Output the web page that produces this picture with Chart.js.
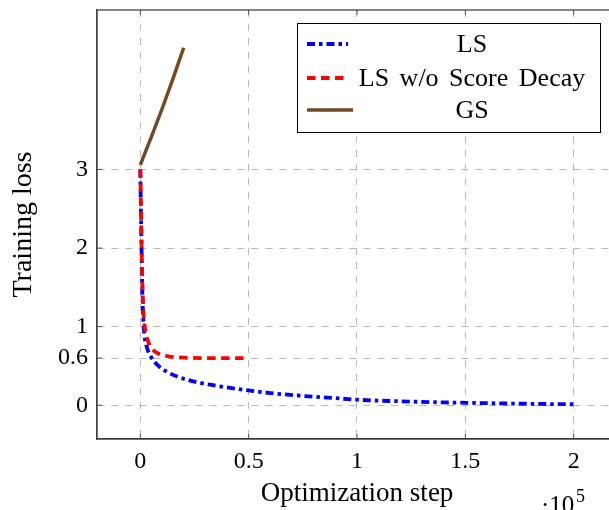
<!DOCTYPE html>
<html>
<head>
<meta charset="utf-8">
<script src="https://cdn.jsdelivr.net/npm/chart.js@4.4.1/dist/chart.umd.min.js"></script>
<style>
	html, body { margin: 0; padding: 0; overflow: hidden; background: #fff; }
	canvas { display: block; }
</style>
</head>
<body>
<canvas id="lossChart" width="620" height="510"></canvas>
<script>
// optimization step in units of 1e5
const stepsLS = [0, 0.002, 0.005, 0.008, 0.012, 0.018, 0.03, 0.05, 0.08, 0.12, 0.17, 0.25, 0.35, 0.45, 0.6, 0.75, 0.9, 1.0, 1.2, 1.4, 1.6, 1.8, 2.0];
const lossLS = [3.0, 2.6, 2.1, 1.6, 1.2, 0.92, 0.74, 0.61, 0.51, 0.43, 0.365, 0.3, 0.248, 0.207, 0.155, 0.118, 0.09, 0.07, 0.05, 0.036, 0.026, 0.018, 0.012];

const stepsNoDecay = [0, 0.003, 0.006, 0.01, 0.015, 0.022, 0.035, 0.05, 0.075, 0.1, 0.15, 0.2, 0.3, 0.4, 0.5];
const lossNoDecay = [3.0, 2.5, 2.0, 1.5, 1.15, 0.97, 0.82, 0.73, 0.67, 0.64, 0.615, 0.605, 0.6, 0.6, 0.6];

const stepsGS = [0, 0.05, 0.1, 0.15, 0.2];
const lossGS = [3.06, 3.41, 3.77, 4.15, 4.55];

const xTicks = [0, 0.5, 1, 1.5, 2];
const yTicks = [0, 0.6, 1, 2, 3];

const seriesLabels = ["LS", "LS w/o Score Decay", "GS"];

const toPoints = (xs, ys) => xs.map((x, i) => ({ x: x, y: ys[i] }));

const serif = "'Liberation Serif', 'Times New Roman', serif";

// box, inner tick marks, legend and the ·10^5 multiplier
const decorations = {
	id: "decorations",
	afterDraw(chart) {
		const { ctx, chartArea, scales } = chart;
		ctx.save();

		// little tick marks inside the frame
		ctx.strokeStyle = "#555";
		ctx.lineWidth = 1;
		ctx.beginPath();
		xTicks.forEach((v) => {
			const px = scales.x.getPixelForValue(v);
			ctx.moveTo(px, chartArea.bottom);
			ctx.lineTo(px, chartArea.bottom - 5);
			ctx.moveTo(px, chartArea.top);
			ctx.lineTo(px, chartArea.top + 5);
		});
		yTicks.forEach((v) => {
			const py = scales.y.getPixelForValue(v);
			ctx.moveTo(chartArea.left, py);
			ctx.lineTo(chartArea.left + 5, py);
		});
		ctx.stroke();

		// frame
		ctx.strokeStyle = "#444";
		ctx.lineWidth = 1.3;
		ctx.strokeRect(chartArea.left, chartArea.top, chartArea.right - chartArea.left, chartArea.bottom - chartArea.top);

		// legend
		const box = { x: 297, y: 23, w: 303, h: 109 };
		ctx.fillStyle = "#fff";
		ctx.fillRect(box.x, box.y, box.w, box.h);
		ctx.strokeStyle = "#000";
		ctx.lineWidth = 1;
		ctx.strokeRect(box.x + 0.5, box.y + 0.5, box.w, box.h);

		const rows = [44, 78, 110];
		chart.data.datasets.forEach((ds, i) => {
			ctx.beginPath();
			ctx.setLineDash(ds.borderDash || []);
			ctx.strokeStyle = ds.borderColor;
			ctx.lineWidth = ds.borderWidth;
			ctx.moveTo(307, rows[i]);
			ctx.lineTo(i === 2 ? 353 : 348, rows[i]);
			ctx.stroke();
			ctx.setLineDash([]);

			ctx.fillStyle = "#000";
			ctx.font = "26px " + serif;
			ctx.wordSpacing = "4px";
			ctx.textAlign = "center";
			ctx.textBaseline = "middle";
			ctx.fillText(ds.label, 472, rows[i] + 1);
			ctx.wordSpacing = "0px";
		});

		// ·10^5
		ctx.fillStyle = "#000";
		ctx.textAlign = "left";
		ctx.textBaseline = "alphabetic";
		ctx.font = "25px " + serif;
		ctx.fillText("\u00b710", 541, 513);
		ctx.font = "18px " + serif;
		ctx.fillText("5", 576, 502);

		ctx.restore();
	},
};

const chart = new Chart(document.getElementById("lossChart"), {
	type: "line",
	data: {
		datasets: [
			{
				label: seriesLabels[0],
				data: toPoints(stepsLS, lossLS),
				borderColor: "#0000ff",
				borderWidth: 3.8,
				borderDash: [8, 4, 3.5, 4],
				order: 1,
			},
			{
				label: seriesLabels[1],
				data: toPoints(stepsNoDecay, lossNoDecay),
				borderColor: "#ff0000",
				borderWidth: 3.8,
				borderDash: [8.5, 5.5],
				order: 0,
			},
			{
				label: seriesLabels[2],
				data: toPoints(stepsGS, lossGS),
				borderColor: "#704a25",
				borderWidth: 3.5,
				borderDash: [],
				order: 2,
			},
		],
	},
	options: {
		responsive: false,
		animation: false,
		layout: { padding: { top: 10, right: 3, bottom: 0, left: 0 } },
		elements: {
			point: { radius: 0 },
			line: { cubicInterpolationMode: "monotone", fill: false },
		},
		plugins: {
			legend: { display: false },
			tooltip: { enabled: false },
		},
		scales: {
			x: {
				type: "linear",
				min: -0.2,
				max: 2.2,
				afterBuildTicks: (scale) => {
					scale.ticks = xTicks.map((v) => ({ value: v }));
				},
				afterFit: (scale) => {
					scale.height = 71;
					scale.paddingLeft = 0;
					scale.paddingRight = 0;
				},
				ticks: {
					color: "#000",
					font: { family: serif, size: 24 },
					padding: 8,
					maxRotation: 0,
					callback: (v) => String(v),
				},
				grid: { color: "#b8b8b8", lineWidth: 1, drawTicks: false },
				border: { color: "#222", width: 1.3, dash: [7, 7] },
				title: {
					display: true,
					text: "Optimization step",
					color: "#000",
					font: { family: serif, size: 27 },
					padding: { top: 0, bottom: 0 },
				},
			},
			y: {
				type: "linear",
				min: -0.43,
				max: 5.03,
				afterBuildTicks: (scale) => {
					scale.ticks = yTicks.map((v) => ({ value: v }));
				},
				afterFit: (scale) => {
					scale.width = 97;
					scale.paddingTop = 0;
					scale.paddingBottom = 0;
				},
				ticks: {
					color: "#000",
					font: { family: serif, size: 24 },
					padding: 9,
					callback: (v) => String(v),
				},
				grid: { color: "#b8b8b8", lineWidth: 1, drawTicks: false },
				border: { color: "#444", width: 1.3, dash: [7, 7] },
				title: {
					display: true,
					text: "Training loss",
					color: "#000",
					font: { family: serif, size: 28 },
					padding: { top: 7, bottom: 0 },
				},
			},
		},
	},
	plugins: [decorations],
});
</script>
</body>
</html>
